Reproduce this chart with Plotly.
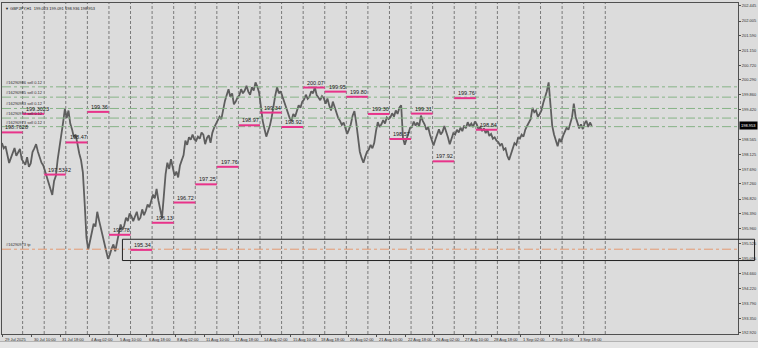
import plotly.graph_objects as go

# ---------------- data ----------------
# trading days shown (H1 bars, 24 bars per day); bar 0 = 29 Jul 2025 00:00
days = ["29 Jul", "30 Jul", "31 Jul", "1 Aug", "4 Aug", "5 Aug", "6 Aug", "7 Aug",
        "8 Aug", "11 Aug", "12 Aug", "13 Aug", "14 Aug", "15 Aug", "18 Aug",
        "19 Aug", "20 Aug", "21 Aug", "22 Aug", "25 Aug", "26 Aug", "27 Aug",
        "28 Aug", "29 Aug", "1 Sep", "2 Sep", "3 Sep", "4 Sep", "5 Sep"]

# GBPJPY H1 price, sampled every 2 bars, one list per trading day
price_by_day = [
    [198.45, 198.30, 198.36, 198.05, 197.87, 198.02, 198.14, 198.31, 198.08, 198.20, 198.28, 197.98],
    [197.90, 197.82, 198.04, 197.76, 197.86, 198.19, 198.30, 198.42, 198.20, 198.02, 197.88, 197.80],
    [197.62, 197.45, 197.30, 197.12, 196.94, 197.35, 197.50, 197.98, 198.30, 198.62, 199.05, 199.45],
    [199.18, 199.40, 199.02, 198.85, 198.62, 198.70, 198.40, 198.15, 197.95, 197.60, 196.70, 195.70],
    [195.35, 195.62, 195.88, 196.10, 196.02, 196.45, 196.20, 195.95, 195.70, 195.45, 195.30, 195.08],
    [195.20, 195.38, 195.50, 195.30, 195.55, 195.80, 196.08, 195.92, 196.05, 196.28, 196.18, 196.40],
    [196.32, 196.18, 196.30, 196.45, 196.20, 196.28, 196.52, 196.35, 196.48, 196.66, 196.58, 196.80],
    [196.95, 196.84, 197.12, 196.78, 196.50, 196.27, 196.90, 197.55, 197.88, 197.70, 197.98, 197.72],
    [197.50, 197.62, 197.45, 197.80, 197.95, 198.10, 198.52, 198.40, 198.62, 198.55, 198.70, 198.56],
    [198.52, 198.64, 198.58, 198.76, 198.70, 198.42, 198.60, 198.68, 198.46, 198.75, 198.90, 199.02],
    [199.10, 199.22, 199.15, 199.45, 199.68, 199.85, 200.02, 199.80, 199.90, 199.58, 199.66, 199.78],
    [199.84, 200.02, 199.90, 199.98, 200.12, 199.95, 199.86, 200.08, 199.98, 200.22, 200.10, 199.92],
    [199.50, 199.10, 198.86, 198.64, 198.80, 198.96, 199.20, 199.55, 199.84, 200.08, 199.90, 199.96],
    [199.80, 199.60, 199.45, 199.30, 199.18, 199.10, 199.30, 199.22, 199.42, 199.55, 199.48, 199.66],
    [199.72, 199.86, 199.74, 199.80, 199.96, 199.90, 200.08, 199.85, 199.78, 199.70, 199.82, 199.76],
    [199.60, 199.75, 199.55, 199.40, 199.66, 199.48, 199.30, 199.18, 199.10, 198.98, 199.05, 198.88],
    [198.72, 198.85, 199.00, 199.25, 199.38, 199.05, 198.55, 198.20, 198.02, 197.88, 198.05, 198.20],
    [198.26, 198.40, 198.30, 198.45, 198.80, 199.06, 198.92, 199.00, 199.12, 199.02, 199.20, 199.15],
    [199.20, 199.32, 199.22, 199.40, 199.30, 199.48, 199.55, 198.60, 198.40, 198.55, 198.70, 198.90],
    [198.92, 199.08, 198.96, 199.05, 198.94, 199.25, 199.10, 199.00, 198.84, 198.92, 198.70, 198.52],
    [198.38, 198.55, 198.68, 198.85, 198.70, 198.78, 198.95, 198.80, 198.62, 198.42, 198.58, 198.74],
    [198.70, 198.84, 198.76, 198.90, 198.80, 198.96, 198.88, 199.06, 198.94, 199.02, 198.92, 199.08],
    [199.00, 198.85, 198.92, 198.80, 198.88, 198.74, 198.84, 198.66, 198.72, 198.58, 198.62, 198.52],
    [198.48, 198.38, 198.44, 198.26, 198.30, 198.08, 197.96, 198.12, 198.30, 198.45, 198.40, 198.60],
    [198.58, 198.70, 198.64, 198.84, 198.95, 199.05, 199.15, 199.48, 199.35, 199.40, 199.22, 199.30],
    [199.40, 199.62, 199.78, 199.96, 200.22, 199.50, 198.95, 198.70, 198.50, 198.36, 198.58, 198.48],
    [198.66, 198.78, 198.90, 198.84, 199.05, 199.20, 199.60, 199.22, 199.05, 198.88, 199.00, 198.86],
    [199.02, 199.10, 198.92, 199.05, 198.953],
]

# daily level markers (one per day, from day 0)
level_values = [198.7628, 199.3023, 197.5342, 198.47, 199.36, 195.78, 195.34,
                196.13, 196.72, 197.25, 197.76, 198.97, 199.34, 198.92, 200.07,
                199.95, 199.80, 199.30, 198.57, 199.31, 197.92, 199.76, 198.84]
level_labels = ["198.7628", "199.3023", "197.5342", "198.47", "199.36", "195.78",
                "195.34", "196.13", "196.72", "197.25", "197.76", "198.97",
                "199.34", "198.92", "200.07", "199.95", "199.80", "199.30",
                "198.57", "199.31", "197.92", "199.76", "198.84"]

# open orders
order_prices = [200.09, 199.79, 199.46, 199.18, 198.93]
order_labels = ["#16290986 sell 0.12", "#16290985 sell 0.12", "#16290983 sell 0.12",
                "#16290977 sell 0.12", "#16290973 sell 0.12"]
tp_price = 195.36
tp_label = "#16290973 tp"

# rectangle zone
zone_start_bar = 135
zone_top = 195.65
zone_bottom = 195.03

# time axis labels: (bar index, text)
time_label_bars = [2, 34, 66, 98, 130, 162, 194, 226, 258, 290, 322, 354, 386,
                   418, 450, 482, 514, 546, 578, 610, 642]
time_labels = ["29 Jul 2025", "30 Jul 10:00", "31 Jul 18:00", "4 Aug 02:00",
               "5 Aug 10:00", "6 Aug 18:00", "8 Aug 02:00", "11 Aug 10:00",
               "12 Aug 18:00", "14 Aug 02:00", "15 Aug 10:00", "18 Aug 18:00",
               "20 Aug 02:00", "21 Aug 10:00", "22 Aug 18:00", "26 Aug 02:00",
               "27 Aug 10:00", "28 Aug 18:00", "1 Sep 02:00", "2 Sep 10:00",
               "3 Sep 18:00"]

# price axis labels
price_ticks = [202.445, 202.005, 201.590, 201.150, 200.720, 200.290, 199.860,
               199.420, 198.565, 198.125, 197.690, 197.260, 196.820, 196.390,
               195.960, 195.525, 195.095, 194.660, 194.220, 193.790, 193.350,
               192.920]
price_tick_text = ["202.445", "202.005", "201.590", "201.150", "200.720", "200.290",
                   "199.860", "199.420", "198.565", "198.125", "197.690", "197.260",
                   "196.820", "196.390", "195.960", "195.525", "195.095", "194.660",
                   "194.220", "193.790", "193.350", "192.920"]

header = "▼ GBPJPY,H1  199.023 199.091 198.936 198.953"
last_price = 198.953

BARS_PER_DAY = 24
STEP = 2
X_RANGE = [1.07, 819.6]
Y_RANGE = [192.89, 202.532]
FONT = "Liberation Sans, Arial, sans-serif"

xs, ys = [], []
for d, vals in enumerate(price_by_day):
    for k, v in enumerate(vals):
        xs.append(d * BARS_PER_DAY + STEP * k + 1)
        ys.append(v)

fig = go.Figure()
fig.add_trace(go.Scatter(x=xs, y=ys, mode="lines",
                         line=dict(color="#5e5e5e", width=1.8),
                         hoverinfo="skip", showlegend=False))

shapes = []
annotations = []

# day separators
for d in range(1, len(days)):
    shapes.append(dict(type="line", xref="x", yref="paper",
                       x0=d * BARS_PER_DAY, x1=d * BARS_PER_DAY, y0=0, y1=1,
                       line=dict(color="#7a7a7a", width=1, dash="3px,2px"), layer="below"))

# order lines
for p, lab in zip(order_prices, order_labels):
    shapes.append(dict(type="line", xref="paper", yref="y", x0=0, x1=1, y0=p, y1=p,
                       line=dict(color="#86b386", width=1, dash="dashdot")))
    annotations.append(dict(x=0.003, xref="paper", y=p, yref="y", text=lab,
                            showarrow=False, xanchor="left", yanchor="bottom",
                            font=dict(size=4, color="#303030", family=FONT)))
shapes.append(dict(type="line", xref="paper", yref="y", x0=0, x1=1, y0=tp_price,
                   y1=tp_price, line=dict(color="#e49a72", width=1, dash="dashdot")))
annotations.append(dict(x=0.003, xref="paper", y=tp_price, yref="y", text=tp_label,
                        showarrow=False, xanchor="left", yanchor="bottom",
                        font=dict(size=4, color="#303030", family=FONT)))

# zone rectangle: starts at a bar, runs past the price scale to the window edge
zone_x0 = (zone_start_bar - X_RANGE[0]) / (X_RANGE[1] - X_RANGE[0])
shapes.append(dict(type="rect", xref="paper", yref="y", x0=zone_x0, x1=1.0225,
                   y0=zone_bottom, y1=zone_top, line=dict(color="#202020", width=1),
                   fillcolor="rgba(0,0,0,0)"))

# daily level segments
for d, (v, lab) in enumerate(zip(level_values, level_labels)):
    shapes.append(dict(type="line", xref="x", yref="y", x0=d * BARS_PER_DAY,
                       x1=(d + 1) * BARS_PER_DAY, y0=v, y1=v,
                       line=dict(color="#e8338a", width=2)))
    annotations.append(dict(x=d * BARS_PER_DAY + 2, xref="x", y=v, yref="y", text=lab,
                            showarrow=False, xanchor="left", yanchor="bottom", yshift=0,
                            font=dict(size=5.5, color="#202020", family=FONT)))

# time labels
for b, t in zip(time_label_bars, time_labels):
    annotations.append(dict(x=b, xref="x", y=0, yref="paper", text=t, showarrow=False,
                            xanchor="left", yanchor="top", xshift=0, yshift=-1,
                            font=dict(size=4, color="#303030", family=FONT)))

# header
annotations.append(dict(x=0.002, xref="paper", y=0.997, yref="paper", text=header,
                        showarrow=False, xanchor="left", yanchor="top",
                        font=dict(size=4, color="#202020", family=FONT)))
# current price box
annotations.append(dict(x=1, xref="paper", y=last_price, yref="y", text=last_price.__format__(".3f"),
                        showarrow=False, xanchor="left", yanchor="middle", xshift=1,
                        bgcolor="#000000", borderpad=1,
                        font=dict(size=4, color="#ffffff", family=FONT)))

# bottom tab strip
shapes.append(dict(type="rect", xref="paper", yref="paper", x0=-0.01, x1=1.05,
                   y0=-0.0225, y1=-0.045, fillcolor="#e6e6e6", line=dict(width=0), layer="below"))
shapes.append(dict(type="line", xref="paper", yref="paper", x0=-0.01, x1=1.05,
                   y0=-0.0225, y1=-0.0225, line=dict(color="#b0b0b0", width=1)))

fig.update_layout(
    width=758, height=348,
    margin=dict(l=1, r=18, t=3, b=14),
    paper_bgcolor="#dcdcdc", plot_bgcolor="#dcdcdc",
    shapes=shapes, annotations=annotations,
    showlegend=False,
    xaxis=dict(range=X_RANGE, showgrid=False, zeroline=False, showline=True,
               linecolor="#505050", linewidth=1, mirror=True,
               tickmode="array", tickvals=time_label_bars, ticks="outside", ticklen=2,
               tickcolor="#505050", showticklabels=False),
    yaxis=dict(range=Y_RANGE, side="right", showgrid=False, zeroline=False,
               showline=True, linecolor="#505050", linewidth=1, mirror=True,
               tickmode="array", tickvals=price_ticks, ticktext=price_tick_text,
               ticks="outside", ticklen=2, tickcolor="#505050",
               tickfont=dict(size=4, color="#303030", family=FONT)),
)

fig.write_html("out.html")
